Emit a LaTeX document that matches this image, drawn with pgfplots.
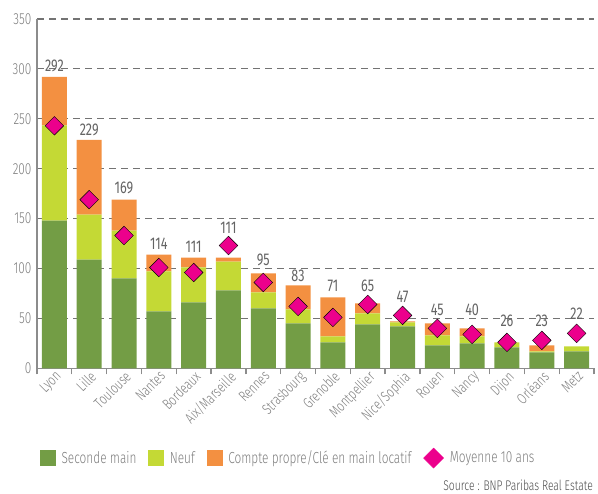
\documentclass[border=0pt]{standalone}
\usepackage{fontspec}
\setmainfont{Fira Sans Light}[FakeStretch=0.74, BoldFont=Fira Sans]
\usepackage{pgfplots}
\pgfplotsset{compat=1.18}
\usepackage{pgfplotstable}

\definecolor{sgreen}{RGB}{115,157,69}
\definecolor{syellow}{RGB}{196,217,53}
\definecolor{sorange}{RGB}{243,144,65}
\definecolor{smag}{RGB}{236,0,140}
\definecolor{txtgray}{RGB}{125,125,125}
\definecolor{labgray}{RGB}{100,100,100}
\definecolor{axgray}{RGB}{140,140,140}
\definecolor{gridgray}{RGB}{115,115,115}

\pgfplotstableread{
x g y o avg lp lab
0 148 95.5 48.5 243 303 292
1 109 45 75 169 239 229
2 90 48 31 133 181 169
3 57 40 17 101 125 114
4 66 35 10 96 122 111
5 78 29 4 123 141 111
6 60 16 19 86 108.6 95
7 45 14 24 62 93 83
8 26 6 39 51 83 71
9 44 11 10 64 83 65
10 42 4 1 53 72 47
11 23 10 12 40 59 45
12 25 7 8 34 59 40
13 21 5 0 26 48 26
14 16 1 6 28 48 23
15 17 5 0 35 55 22
}\data

\begin{document}
\begin{tikzpicture}
\useasboundingbox (0,0) rectangle (598pt,494pt);
\begin{axis}[
  at={(37pt,125.7pt)}, anchor=south west, scale only axis,
  width=557pt, height=349.3pt,
  xmin=-0.5, xmax=15.5, ymin=0, ymax=350,
  ybar stacked, bar width=25pt,
  axis lines*=left,
  axis line style={draw=axgray, line width=1.3pt},
  ytick={0,50,...,350},
  ymajorgrids,
  grid style={draw=gridgray, line width=1.2pt, dash pattern=on 7pt off 5pt},
  xtick={0,...,15},
  xticklabels={Lyon,Lille,Toulouse,Nantes,Bordeaux,Aix/Marseille,Rennes,Strasbourg,Grenoble,Montpellier,Nice/Sophia,Rouen,Nancy,Dijon,Orléans,Metz},
  x tick label style={rotate=45, anchor=north east, font=\fontsize{15}{15}\selectfont, text=txtgray, inner sep=1pt},
  y tick label style={font=\fontsize{16}{16}\selectfont, text=txtgray, xshift=-2pt},
  /pgf/number format/assume math mode=true,
  major tick length=0pt,
  extra x ticks={-0.5,0.5,...,15.5},
  extra x tick labels={},
  extra x tick style={major tick length=6pt, tick align=outside, xmajorgrids=false,
     tick style={draw=axgray, line width=1.3pt}},
]
\addplot[fill=sgreen, draw=none] table[x=x, y=g] {\data};
\addplot[fill=syellow, draw=none] table[x=x, y=y] {\data};
\addplot[fill=sorange, draw=none] table[x=x, y=o] {\data};
\end{axis}
\begin{axis}[
  at={(37pt,125.7pt)}, anchor=south west, scale only axis,
  width=557pt, height=349.3pt,
  xmin=-0.5, xmax=15.5, ymin=0, ymax=350,
  hide axis, clip=false,
  legend style={at={(0,-0.257)}, anchor=west, legend columns=4, draw=none, fill=none,
    font=\fontsize{16}{16}\selectfont, text=txtgray,
    /tikz/every odd column/.append style={column sep=4pt},
    /tikz/every even column/.append style={column sep=10pt}},
]
\addlegendimage{legend image code/.code={\fill[sgreen] (0pt,-7.5pt) rectangle (15pt,7.5pt);}}
\addlegendentry{Seconde main}
\addlegendimage{legend image code/.code={\fill[syellow] (0pt,-7.5pt) rectangle (15pt,7.5pt);}}
\addlegendentry{Neuf}
\addlegendimage{legend image code/.code={\fill[sorange] (0pt,-7.5pt) rectangle (15pt,7.5pt);}}
\addlegendentry{Compte propre/Clé en main locatif}
\addplot[only marks, mark=square*, mark size=6.6pt, mark options={rotate=45, fill=smag, draw=none},
  legend image code/.code={\fill[smag] (0pt,0pt)--(10pt,10pt)--(20pt,0pt)--(10pt,-10pt)--cycle;}]
  table[x=x, y=avg] {\data};
\addlegendentry{Moyenne 10 ans}
\addplot[draw=none, mark=none, nodes near coords, point meta=explicit symbolic,
  every node near coord/.style={anchor=center, text=labgray, font=\fontsize{17}{17}\selectfont\bfseries}]
  table[x=x, y=lp, meta=lab] {\data};
\end{axis}
\node[anchor=east, text=black!70, font=\fontsize{14}{14}\selectfont, inner sep=0pt] at (593pt,9pt) {Source : BNP Paribas Real Estate};
\end{tikzpicture}
\end{document}
